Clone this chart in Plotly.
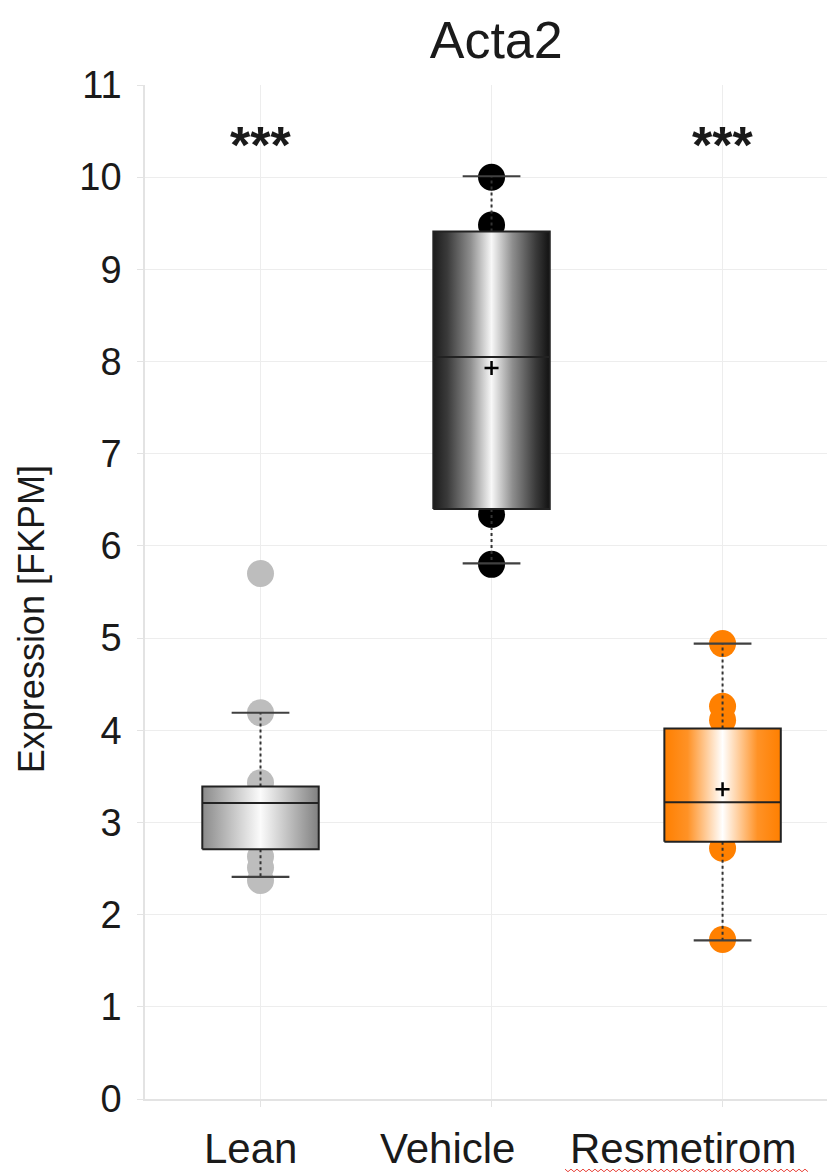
import plotly.graph_objects as go

# ---- data -------------------------------------------------------------
groups = ["Lean", "Vehicle", "Resmetirom"]
positions = [0, 1, 2]
q1 = [2.71, 6.40, 2.79]
medians = [3.21, 8.05, 3.22]
q3 = [3.39, 9.41, 4.02]
whisker_low = [2.41, 5.81, 1.72]
whisker_high = [4.19, 10.01, 4.94]
means = [None, 7.93, 3.36]
points = [
    [5.70, 4.19, 3.43, 2.63, 2.51, 2.37],
    [10.00, 9.48, 6.34, 5.80],
    [4.94, 4.26, 4.11, 2.72, 1.73],
]
significance = ["***", "", "***"]
y_ticks = list(range(0, 12))

# ---- styling ----------------------------------------------------------
FONT = "Liberation Sans, Arial, sans-serif"
point_colors = ["#bdbdbd", "#000000", "#ff8000"]
box_scales = [
    [[0, "#8a8a8a"], [0.5, "#fbfbfb"], [1, "#808080"]],
    [[0, "#1c1c1c"], [0.12, "#3a3a3a"], [0.32, "#8e8e8e"], [0.5, "#f8f8f8"],
     [0.68, "#8e8e8e"], [0.88, "#3a3a3a"], [1, "#111111"]],
    [[0, "#ff7f00"], [0.2, "#ff9226"], [0.5, "#ffffff"], [0.8, "#ff9226"], [1, "#ff7f00"]],
]
label_shift = [-10, -44, -40]
BOX_HALF = 0.252
CAP_HALF = 0.125

W, H = 827, 1175
M_L, M_R, M_T, M_B = 145, 0, 84.5, 75.5
PLOT_W = W - M_L - M_R
PLOT_H = H - M_T - M_B

fig = go.Figure()

# raw observations sit behind the boxes
for pos, vals, col in zip(positions, points, point_colors):
    fig.add_trace(go.Scatter(
        x=[pos] * len(vals), y=vals, mode="markers",
        marker=dict(size=27, color=col, line=dict(width=0)),
        hoverinfo="y", showlegend=False))

# whiskers (dotted) and caps
for pos, lo, hi, a, b in zip(positions, whisker_low, whisker_high, q1, q3):
    for y0, y1 in ((b, hi), (a, lo)):
        fig.add_trace(go.Scatter(
            x=[pos, pos], y=[y0, y1], mode="lines",
            line=dict(color="#333333", width=2, dash="dot"),
            hoverinfo="skip", showlegend=False))
    for yc in (lo, hi):
        fig.add_trace(go.Scatter(
            x=[pos - CAP_HALF, pos + CAP_HALF], y=[yc, yc], mode="lines",
            line=dict(color="#404040", width=2.2),
            hoverinfo="skip", showlegend=False))

# boxes with horizontal shading
for pos, a, b, scale in zip(positions, q1, q3, box_scales):
    fig.add_trace(go.Scatter(
        x=[pos - BOX_HALF, pos + BOX_HALF, pos + BOX_HALF, pos - BOX_HALF, pos - BOX_HALF],
        y=[a, a, b, b, a], mode="lines", fill="toself",
        fillgradient=dict(type="horizontal", colorscale=scale),
        line=dict(color="#222222", width=2),
        hoverinfo="skip", showlegend=False))

# medians
for pos, m in zip(positions, medians):
    fig.add_trace(go.Scatter(
        x=[pos - BOX_HALF, pos + BOX_HALF], y=[m, m], mode="lines",
        line=dict(color="#222222", width=2),
        hoverinfo="skip", showlegend=False))

# means
for pos, mu in zip(positions, means):
    if mu is None:
        continue
    fig.add_trace(go.Scatter(
        x=[pos], y=[mu], mode="markers",
        marker=dict(symbol="cross-thin", size=10, line=dict(color="#000000", width=2.5)),
        hoverinfo="y", showlegend=False))

annotations = []
for pos, s in zip(positions, significance):
    if s:
        annotations.append(dict(
            x=pos, y=10.42, xref="x", yref="y", text="<b>" + s + "</b>", showarrow=False,
            font=dict(family=FONT, size=52, color="#1a1a1a"), yanchor="middle", yshift=-7))

for pos, name, dx in zip(positions, groups, label_shift):
    annotations.append(dict(
        x=pos, y=-0.049, xref="x", yref="paper", text=name, showarrow=False,
        xshift=dx, yanchor="middle",
        font=dict(family=FONT, size=42, color="#1a1a1a")))

annotations.append(dict(
    x=-0.166, y=0.473, xref="paper", yref="paper", text="Expression [FKPM]",
    textangle=-90, showarrow=False, xanchor="center", yanchor="middle",
    font=dict(family=FONT, size=36, color="#1a1a1a")))

# spell-check squiggle under the last group label
x0_px, x1_px, y_px, step = 565, 810, 1171, 3
path = []
k = 0
xp = x0_px
while xp <= x1_px:
    yy = y_px + (1.3 if k % 2 else -1.3)
    xpaper = (xp - M_L) / PLOT_W
    ypaper = (H - M_B - yy) / PLOT_H
    path.append(("M" if k == 0 else "L") + f"{xpaper:.5f},{ypaper:.5f}")
    xp += step
    k += 1
shapes = [dict(type="path", xref="paper", yref="paper", path=" ".join(path),
               line=dict(color="#e8453c", width=1))]

fig.update_layout(
    width=W, height=H,
    margin=dict(l=M_L, r=M_R, t=M_T, b=M_B),
    paper_bgcolor="white", plot_bgcolor="white",
    title=dict(text="Acta2", x=0.6, xanchor="center", y=1 - 40 / 1175,
               yanchor="middle", yref="container",
               font=dict(family=FONT, size=52, color="#1a1a1a")),
    annotations=annotations,
    shapes=shapes,
    showlegend=False,
)
fig.update_xaxes(
    range=[-0.5, 2.452], tickvals=positions, showticklabels=False,
    showgrid=True, gridcolor="#ededed", gridwidth=1, zeroline=False,
    showline=True, linecolor="#e3e3e3", linewidth=1.5,
    ticks="outside", ticklen=6, tickcolor="#e3e3e3")
fig.update_yaxes(
    range=[0, 11], tickvals=y_ticks, showgrid=True, gridcolor="#ededed",
    gridwidth=1, zeroline=False, showline=True, linecolor="#e3e3e3", linewidth=1.5,
    ticks="outside", ticklen=6, tickcolor="#e3e3e3", ticklabelstandoff=8,
    tickfont=dict(family=FONT, size=38, color="#1a1a1a"))

fig.write_html("out.html")
